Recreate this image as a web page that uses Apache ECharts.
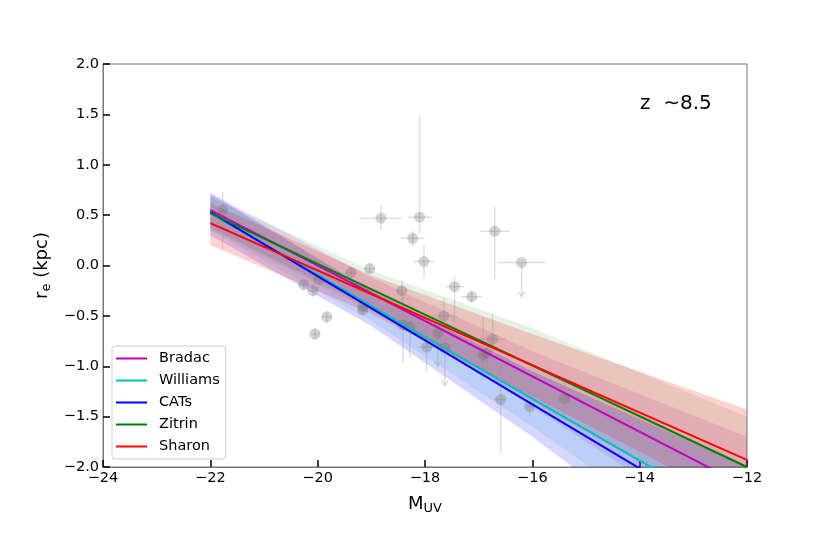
<!DOCTYPE html>
<html>
<head>
<meta charset="utf-8">
<script src="https://cdn.jsdelivr.net/npm/echarts@6/dist/echarts.min.js"></script>
<style>
  html, body { margin: 0; padding: 0; background: #fff; }
  #chart { width: 830px; height: 534px; }
</style>
</head>
<body>
<div id="chart"></div>
<script>
// fit lines: value at M_UV = -22 and -12
var modelNames = ['Bradac', 'Williams', 'CATs', 'Zitrin', 'Sharon'];
var modelColors = ['#bf00bf', '#00bfbf', '#0000ff', '#008000', '#ff0000'];
var lineX = [-22, -12];
var bradacLine = [0.55, -2.2];
var williamsLine = [0.52, -2.55];
var catsLine = [0.53, -2.65];
var zitrinLine = [0.52, -2.0];
var sharonLine = [0.42, -1.93];

// confidence bands
var bandX = [-22, -19, -16, -12];
var bradacUpper = [0.72, -0.12, -0.85, -1.7];
var bradacLower = [0.38, -0.42, -1.4, -2.8];
var williamsUpper = [0.7, -0.25, -1.05, -2.0];
var williamsLower = [0.35, -0.55, -1.6, -3.1];
var catsUpper = [0.72, -0.25, -1.05, -2.0];
var catsLower = [0.3, -0.6, -1.7, -3.3];
var zitrinUpper = [0.68, -0.05, -0.62, -1.5];
var zitrinLower = [0.36, -0.45, -1.35, -2.55];
var sharonUpper = [0.62, -0.1, -0.68, -1.43];
var sharonLower = [0.2, -0.48, -1.3, -2.4];

// galaxies: M_UV, r_e, x error, y error down, y error up, upper limit
var ptX    = [-21.77, -20.26, -20.09, -19.83, -20.05, -19.98, -19.38, -19.03, -19.16, -19.16, -18.82, -18.10, -18.23, -18.02, -16.70, -16.20, -18.43, -17.45, -17.13, -17.65, -18.41, -18.28, -17.76, -17.97, -17.63, -16.74, -16.92, -16.85, -16.59, -16.05, -15.40];
var ptY    = [0.55, -0.19, -0.25, -0.51, -0.68, -0.14, -0.07, -0.03, -0.41, -0.44, 0.47, 0.48, 0.27, 0.04, 0.34, 0.03, -0.25, -0.21, -0.31, -0.50, -0.59, -0.61, -0.67, -0.81, -0.82, -0.73, -0.89, -0.87, -1.33, -1.40, -1.32];
var ptXerr = [0.05, 0.1, 0.1, 0.1, 0.1, 0.1, 0.12, 0.1, 0.1, 0.1, 0.4, 0.22, 0.22, 0.2, 0.28, 0.45, 0.1, 0.18, 0.2, 0.22, 0.1, 0.1, 0.1, 0.19, 0.1, 0.25, 0.1, 0.1, 0.12, 0.1, 0.1];
var ptYlo  = [0.38, 0.06, 0.06, 0.06, 0.06, 0.08, 0.06, 0.05, 0.06, 0.06, 0.12, 0.16, 0.08, 0.17, 0.47, 0.34, 0.1, 0.34, 0.06, 0.18, 0.37, 0.3, 0.33, 0.25, 0.37, 0.25, 0.25, 0.2, 0.53, 0.1, 0.28];
var ptYhi  = [0.18, 0.06, 0.06, 0.06, 0.06, 0.08, 0.06, 0.05, 0.06, 0.06, 0.12, 1.01, 0.08, 0.17, 0.24, 0, 0.1, 0.1, 0.06, 0.18, 0.28, 0.25, 0.1, 0.2, 0.1, 0.25, 0.38, 0.2, 0.36, 0.1, 0.2];
var ptLim  = [0, 0, 0, 0, 0, 0, 0, 0, 0, 0, 0, 0, 0, 0, 0, 1, 0, 1, 0, 0, 0, 0, 1, 0, 1, 0, 0, 0, 0, 0, 0];

var lines = [bradacLine, williamsLine, catsLine, zitrinLine, sharonLine];
var uppers = [bradacUpper, williamsUpper, catsUpper, zitrinUpper, sharonUpper];
var lowers = [bradacLower, williamsLower, catsLower, zitrinLower, sharonLower];
var bandAlpha = [0.13, 0.12, 0.16, 0.1, 0.18];

var font = 'DejaVu Sans';
var minus = function (s) { return String(s).replace('-', '\u2212'); };

function bandRenderer(up, lo, color, alpha) {
    return function (params, api) {
        if (params.dataIndex !== 0) return;
        var pts = [];
        for (var i = 0; i < bandX.length; i++) pts.push(api.coord([bandX[i], up[i]]));
        for (var j = bandX.length - 1; j >= 0; j--) pts.push(api.coord([bandX[j], lo[j]]));
        var cs = params.coordSys;
        return {
            type: 'polygon',
            shape: { points: pts },
            style: { fill: color, opacity: alpha },
            clipPath: { type: 'rect', shape: { x: cs.x, y: cs.y, width: cs.width, height: cs.height } }
        };
    };
}

function pointRenderer(params, api) {
    var x = api.value(0), y = api.value(1);
    var xe = api.value(2), ylo = api.value(3), yhi = api.value(4), lim = api.value(5);
    var c = api.coord([x, y]);
    var l = api.coord([x - xe, y]), r = api.coord([x + xe, y]);
    var t = api.coord([x, y + yhi]), b = api.coord([x, y - ylo]);
    var bar = { stroke: 'rgba(150,150,150,0.3)', lineWidth: 1.5, fill: null };
    var kids = [
        { type: 'line', shape: { x1: l[0], y1: l[1], x2: r[0], y2: r[1] }, style: bar },
        { type: 'line', shape: { x1: t[0], y1: t[1], x2: b[0], y2: b[1] }, style: bar }
    ];
    if (lim) {
        kids.push({ type: 'polyline', shape: { points: [[b[0] - 3, b[1] - 5], [b[0], b[1]], [b[0] + 3, b[1] - 5]] }, style: bar });
    }
    kids.push({ type: 'circle', shape: { cx: c[0], cy: c[1], r: 5.5 }, style: { fill: 'rgba(110,110,110,0.3)' } });
    return { type: 'group', children: kids };
}

var series = [];
for (var k = 0; k < 5; k++) {
    series.push({
        type: 'custom',
        silent: true,
        renderItem: bandRenderer(uppers[k], lowers[k], modelColors[k], bandAlpha[k]),
        encode: { x: 0, y: [1, 2] },
        data: bandX.map(function (x, i) { return [x, lowers[k][i], uppers[k][i]]; }),
        z: 1
    });
}
series.push({
    type: 'custom',
    silent: true,
    renderItem: pointRenderer,
    encode: { x: 0, y: 1 },
    data: ptX.map(function (x, i) { return [x, ptY[i], ptXerr[i], ptYlo[i], ptYhi[i], ptLim[i]]; }),
    z: 2
});
for (var m = 0; m < 5; m++) {
    series.push({
        name: modelNames[m],
        type: 'line',
        data: lineX.map(function (x, i) { return [x, lines[m][i]]; }),
        showSymbol: false,
        symbol: 'none',
        lineStyle: { color: modelColors[m], width: 2 },
        itemStyle: { color: modelColors[m] },
        clip: true,
        z: 3
    });
}

var chart = echarts.init(document.getElementById('chart'));
chart.setOption({
    animation: false,
    backgroundColor: '#fff',
    grid: { left: 103, right: 83, top: 64, bottom: 67, show: true, borderColor: '#777', borderWidth: 1 },
    xAxis: {
        type: 'value', min: -24, max: -12, interval: 2,
        name: '{m|M}{s|UV}', nameLocation: 'middle', nameGap: 26,
        nameTextStyle: {
            rich: {
                m: { fontFamily: font, fontSize: 18, color: '#000' },
                s: { fontFamily: font, fontSize: 13, color: '#000', padding: [9, 0, 0, 0] }
            }
        },
        axisLine: { onZero: false, lineStyle: { color: '#777' } },
        axisTick: { inside: true, length: 7, lineStyle: { color: '#000', width: 1.5 } },
        axisLabel: { fontFamily: font, fontSize: 14.5, color: '#000', margin: 4, formatter: function (v) { return minus(v); } },
        splitLine: { show: false }
    },
    yAxis: {
        type: 'value', min: -2, max: 2, interval: 0.5,
        name: '{m|r}{s|e}{m| (kpc)}', nameLocation: 'middle', nameGap: 50,
        nameTextStyle: {
            rich: {
                m: { fontFamily: font, fontSize: 18, color: '#000' },
                s: { fontFamily: font, fontSize: 13, color: '#000', padding: [9, 0, 0, 0] }
            }
        },
        axisLine: { onZero: false, lineStyle: { color: '#777' } },
        axisTick: { inside: true, length: 7, lineStyle: { color: '#000', width: 1.5 } },
        axisLabel: { fontFamily: font, fontSize: 14.5, color: '#000', margin: 4, formatter: function (v) { return minus(v.toFixed(1)); } },
        splitLine: { show: false }
    },
    legend: {
        data: modelNames,
        orient: 'vertical',
        left: 112, top: 346,
        padding: [4, 6, 4, 4],
        itemWidth: 31, itemHeight: 2, itemGap: 5,
        icon: 'rect',
        backgroundColor: 'rgba(255,255,255,0.8)',
        borderColor: '#ccc', borderWidth: 1, borderRadius: 3,
        textStyle: { fontFamily: font, fontSize: 14.5, color: '#000', lineHeight: 17, padding: [0, 0, 0, 7] }
    },
    graphic: [{
        type: 'text', left: 640, top: 94,
        style: { text: 'z  \u223c8.5', font: '20px "DejaVu Sans"', fill: '#000' }
    }],
    series: series
});
</script>
</body>
</html>
